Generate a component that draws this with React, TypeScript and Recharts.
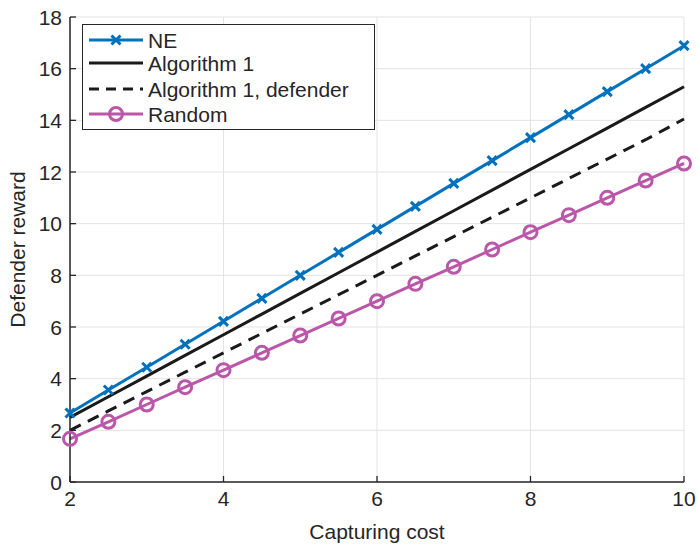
import React from 'react';
import { LineChart, Line, XAxis, YAxis, CartesianGrid } from 'recharts';

// Capturing cost values (x axis)
const costs = [2, 2.5, 3, 3.5, 4, 4.5, 5, 5.5, 6, 6.5, 7, 7.5, 8, 8.5, 9, 9.5, 10];

// Defender reward for each strategy
const neReward = [2.67, 3.56, 4.44, 5.33, 6.22, 7.11, 8.0, 8.89, 9.78, 10.67, 11.56, 12.44, 13.33, 14.22, 15.11, 16.0, 16.89];
const algReward = [2.5, 3.3, 4.1, 4.9, 5.7, 6.5, 7.3, 8.1, 8.9, 9.7, 10.5, 11.3, 12.1, 12.9, 13.7, 14.5, 15.3];
const algDefenderReward = [2.0, 2.75, 3.5, 4.25, 5.0, 5.75, 6.5, 7.25, 8.0, 8.75, 9.5, 10.25, 11.0, 11.75, 12.5, 13.25, 14.05];
const randomReward = [1.67, 2.33, 3.0, 3.67, 4.33, 5.0, 5.67, 6.33, 7.0, 7.67, 8.33, 9.0, 9.67, 10.33, 11.0, 11.67, 12.33];

const xTicks = [2, 4, 6, 8, 10];
const yTicks = [0, 2, 4, 6, 8, 10, 12, 14, 16, 18];

const seriesNames = ['NE', 'Algorithm 1', 'Algorithm 1, defender', 'Random'];

const data = costs.map((c, i) => ({
  cost: c,
  ne: neReward[i],
  alg: algReward[i],
  algDef: algDefenderReward[i],
  rnd: randomReward[i],
}));

const BLUE = '#0072BD';
const BLACK = '#1a1a1a';
const MAGENTA = '#BB57A9';
const AXIS = '#262626';
const FONT = '"Liberation Sans", Arial, Helvetica, sans-serif';
const FS = 21;
const TICK_LEN = 6;

const CrossDot = (props: any) => {
  const { cx, cy } = props;
  if (cx == null || cy == null) return null;
  const s = 4.5;
  return (
    <g stroke={BLUE} strokeWidth={3}>
      <line x1={cx - s} y1={cy - s} x2={cx + s} y2={cy + s} />
      <line x1={cx - s} y1={cy + s} x2={cx + s} y2={cy - s} />
    </g>
  );
};

const CircleDot = (props: any) => {
  const { cx, cy } = props;
  if (cx == null || cy == null) return null;
  return <circle cx={cx} cy={cy} r={6.5} fill="none" stroke={MAGENTA} strokeWidth={3} />;
};

const BottomTick = (props: any) => {
  const { x, y, payload } = props;
  return (
    <g>
      <line x1={x} y1={y} x2={x} y2={y - TICK_LEN} stroke={AXIS} strokeWidth={1.3} />
      <text x={x} y={y + 9} dy="0.71em" textAnchor="middle" fontSize={FS} fontFamily={FONT} fill={AXIS}>
        {payload.value}
      </text>
    </g>
  );
};

const TopTick = (props: any) => {
  const { x, y } = props;
  return <line x1={x} y1={y} x2={x} y2={y + TICK_LEN} stroke={AXIS} strokeWidth={1.3} />;
};

const LeftTick = (props: any) => {
  const { x, y, payload } = props;
  return (
    <g>
      <line x1={x} y1={y} x2={x + TICK_LEN} y2={y} stroke={AXIS} strokeWidth={1.3} />
      <text x={x - 8} y={y} dy="0.36em" textAnchor="end" fontSize={FS} fontFamily={FONT} fill={AXIS}>
        {payload.value}
      </text>
    </g>
  );
};

const RightTick = (props: any) => {
  const { x, y } = props;
  return <line x1={x} y1={y} x2={x - TICK_LEN} y2={y} stroke={AXIS} strokeWidth={1.3} />;
};

const LegendBox = () => {
  const rowY = [16, 39, 65, 90];
  return (
    <svg width={293} height={106} style={{ display: 'block' }}>
      <rect x={0.5} y={0.5} width={292} height={105} fill="#fff" stroke={AXIS} strokeWidth={1} />
      {/* NE */}
      <line x1={7} y1={rowY[0]} x2={61} y2={rowY[0]} stroke={BLUE} strokeWidth={3} />
      <CrossDot cx={34} cy={rowY[0]} />
      {/* Algorithm 1 */}
      <line x1={7} y1={rowY[1]} x2={61} y2={rowY[1]} stroke={BLACK} strokeWidth={3} />
      {/* Algorithm 1, defender */}
      <line x1={7} y1={rowY[2]} x2={61} y2={rowY[2]} stroke={BLACK} strokeWidth={3} strokeDasharray="10 7" />
      {/* Random */}
      <line x1={7} y1={rowY[3]} x2={61} y2={rowY[3]} stroke={MAGENTA} strokeWidth={3} />
      <CircleDot cx={34} cy={rowY[3]} />
      {seriesNames.map((n, i) => (
        <text key={n} x={66} y={rowY[i]} dy="0.36em" fontSize={FS} fontFamily={FONT} fill={AXIS}>
          {n}
        </text>
      ))}
    </svg>
  );
};

const YLabel = (props: any) => {
  const vb = props.viewBox || {};
  const cy = (vb.y ?? 17) + (vb.height ?? 465) / 2;
  return (
    <text
      x={25}
      y={cy}
      transform={`rotate(-90 25 ${cy})`}
      textAnchor="middle"
      fontSize={FS}
      fontFamily={FONT}
      fill={AXIS}
    >
      Defender reward
    </text>
  );
};

const XLabel = (props: any) => {
  const vb = props.viewBox || {};
  const cx = (vb.x ?? 70) + (vb.width ?? 614) / 2;
  return (
    <text x={cx} y={539} textAnchor="middle" fontSize={FS} fontFamily={FONT} fill={AXIS}>
      Capturing cost
    </text>
  );
};

export default function App() {
  return (
    <div style={{ position: 'absolute', left: 0, top: 0, width: 698, height: 547, background: '#fff' }}>
      <LineChart width={698} height={547} data={data} margin={{ top: 17, right: 14, left: 0, bottom: 0 }}>
        <CartesianGrid
          xAxisId="bottom"
          yAxisId="left"
          stroke="#e3e3e3"
          strokeWidth={1}
          verticalValues={xTicks}
          horizontalValues={yTicks}
        />
        <XAxis
          xAxisId="bottom"
          dataKey="cost"
          type="number"
          domain={[2, 10]}
          ticks={xTicks}
          height={65}
          tickSize={0}
          tickMargin={0}
          tickLine={false}
          axisLine={{ stroke: AXIS, strokeWidth: 1.5 }}
          tick={<BottomTick />}
          label={<XLabel />}
        />
        <XAxis
          xAxisId="top"
          orientation="top"
          dataKey="cost"
          type="number"
          domain={[2, 10]}
          ticks={xTicks}
          height={0}
          tickSize={0}
          tickMargin={0}
          tickLine={false}
          axisLine={{ stroke: AXIS, strokeWidth: 1.5 }}
          tick={<TopTick />}
        />
        <YAxis
          yAxisId="left"
          type="number"
          domain={[0, 18]}
          ticks={yTicks}
          width={70}
          tickSize={0}
          tickMargin={0}
          tickLine={false}
          axisLine={{ stroke: AXIS, strokeWidth: 1.5 }}
          tick={<LeftTick />}
          label={<YLabel />}
        />
        <YAxis
          yAxisId="right"
          orientation="right"
          type="number"
          domain={[0, 18]}
          ticks={yTicks}
          width={0}
          tickSize={0}
          tickMargin={0}
          tickLine={false}
          axisLine={{ stroke: AXIS, strokeWidth: 1.5 }}
          tick={<RightTick />}
        />
        <Line
          xAxisId="bottom"
          yAxisId="left"
          dataKey="rnd"
          name="Random"
          stroke={MAGENTA}
          strokeWidth={3}
          dot={<CircleDot />}
          isAnimationActive={false}
        />
        <Line
          xAxisId="bottom"
          yAxisId="left"
          dataKey="algDef"
          name="Algorithm 1, defender"
          stroke={BLACK}
          strokeWidth={3}
          strokeDasharray="12 8"
          dot={false}
          isAnimationActive={false}
        />
        <Line
          xAxisId="bottom"
          yAxisId="left"
          dataKey="alg"
          name="Algorithm 1"
          stroke={BLACK}
          strokeWidth={3}
          dot={false}
          isAnimationActive={false}
        />
        <Line
          xAxisId="bottom"
          yAxisId="left"
          dataKey="ne"
          name="NE"
          stroke={BLUE}
          strokeWidth={3}
          dot={<CrossDot />}
          isAnimationActive={false}
        />
      </LineChart>
      <div style={{ position: 'absolute', left: 82, top: 24 }}>
        <LegendBox />
      </div>
    </div>
  );
}
